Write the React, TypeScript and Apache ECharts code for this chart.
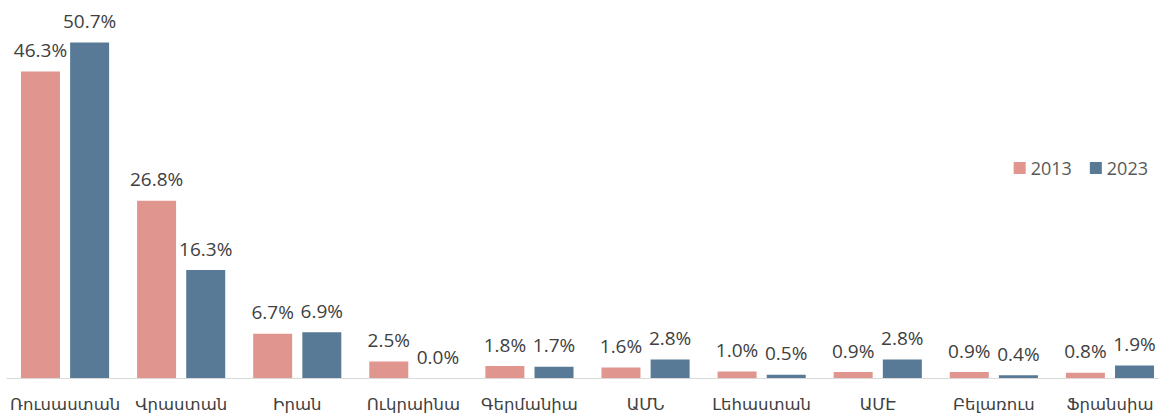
import React, { useEffect, useRef } from "react";
import * as echarts from "echarts";

const categories = ["Ռուսաստան", "Վրաստան", "Իրան", "Ուկրաինա", "Գերմանիա", "ԱՄՆ", "Լեհաստան", "ԱՄԷ", "Բելառուս", "Ֆրանսիա"];
const values2013 = [46.3, 26.8, 6.7, 2.5, 1.8, 1.6, 1.0, 0.9, 0.9, 0.8];
const values2023 = [50.7, 16.3, 6.9, 0.0, 1.7, 2.8, 0.5, 2.8, 0.4, 1.9];
const seriesNames = ["2013", "2023"];

export default function App() {
  const ref = useRef<HTMLDivElement>(null);
  useEffect(() => {
    const chart = echarts.init(ref.current!, null, { renderer: "svg" });
    const label = {
      show: true,
      position: "top",
      distance: 12,
      color: "#404040",
      fontSize: 19,
      fontFamily: "Open Sans",
      formatter: (p: any) => p.value.toFixed(1) + "%",
    };
    chart.setOption({
      animation: false,
      grid: { left: 7, top: 14, right: 0, bottom: 38, containLabel: false },
      legend: {
        right: 15,
        top: 154,
        itemWidth: 12,
        itemHeight: 12,
        itemGap: 18,
        icon: "rect",
        textStyle: { color: "#595959", fontSize: 18, fontFamily: "Open Sans" },
        data: seriesNames,
      },
      xAxis: {
        type: "category",
        data: categories,
        axisLine: { lineStyle: { color: "#d9d9d9" } },
        axisTick: { show: false },
        axisLabel: { color: "#404040", fontSize: 16.5, fontFamily: "DejaVu Sans", margin: 18, interval: 0 },
      },
      yAxis: {
        type: "value",
        min: 0,
        max: 55,
        show: false,
        splitLine: { show: false },
      },
      series: [
        {
          name: seriesNames[0],
          type: "bar",
          data: values2013,
          barWidth: 39,
          barGap: "26%",
          itemStyle: { color: "#E0968F" },
          label,
        },
        {
          name: seriesNames[1],
          type: "bar",
          data: values2023,
          barWidth: 39,
          itemStyle: { color: "#587A96" },
          label,
        },
      ],
    });
    return () => chart.dispose();
  }, []);
  return (
    <div style={{ width: 1159, height: 416, position: "absolute", left: 0, top: 0, overflow: "hidden" }}>
      <div ref={ref} style={{ width: 1168, height: 416 }} />
    </div>
  );
}
